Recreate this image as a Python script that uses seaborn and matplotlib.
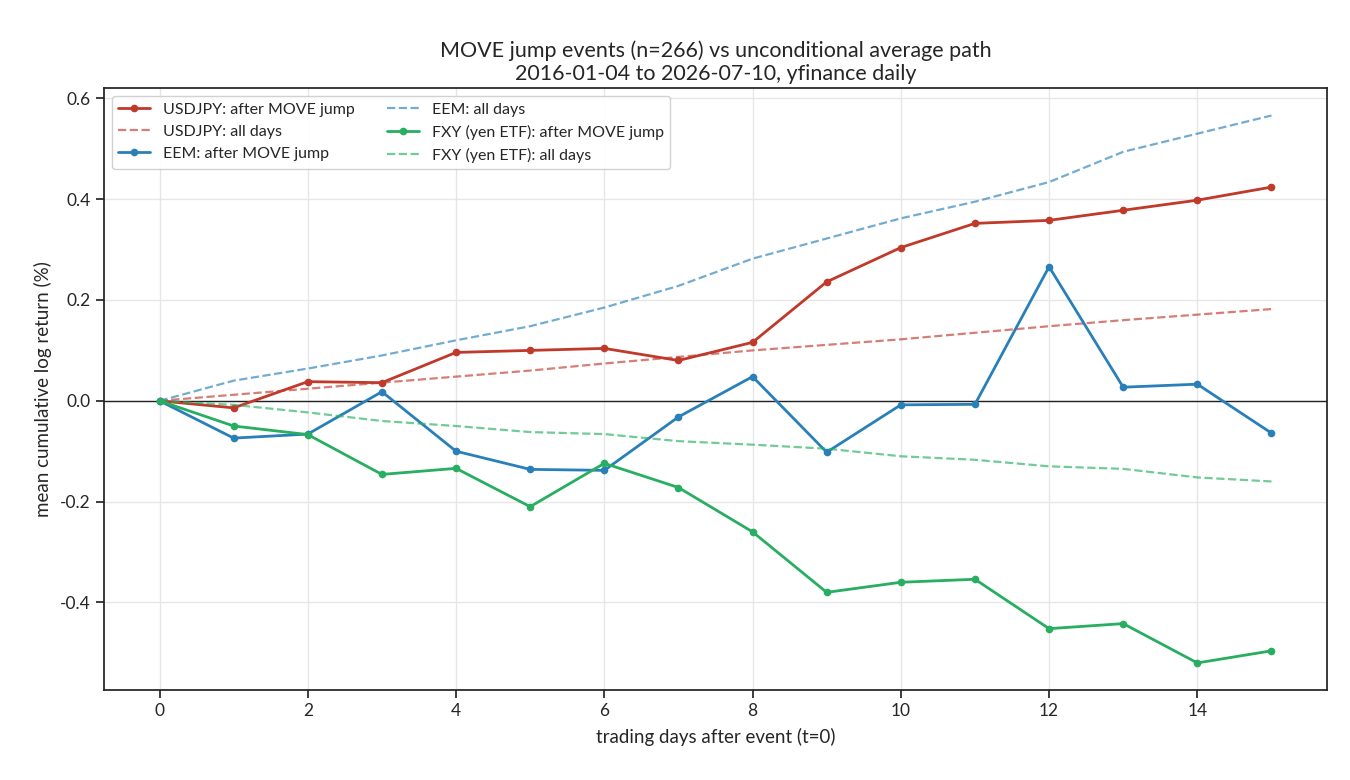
import matplotlib
matplotlib.use('agg')
import matplotlib.pyplot as plt
import seaborn as sns
import numpy as np
import pandas as pd

DAYS = list(range(16))

USDJPY_JUMP = [0.0, -0.014, 0.038, 0.036, 0.096, 0.100, 0.104, 0.080, 0.116,
               0.236, 0.304, 0.352, 0.358, 0.378, 0.398, 0.424]
USDJPY_ALL = [0.0, 0.012, 0.024, 0.036, 0.048, 0.060, 0.074, 0.087, 0.100,
              0.111, 0.122, 0.135, 0.148, 0.160, 0.171, 0.182]
EEM_JUMP = [0.0, -0.074, -0.066, 0.018, -0.100, -0.136, -0.138, -0.032, 0.048,
            -0.102, -0.008, -0.007, 0.266, 0.027, 0.033, -0.064]
EEM_ALL = [0.0, 0.040, 0.064, 0.090, 0.120, 0.148, 0.185, 0.228, 0.282,
           0.322, 0.362, 0.395, 0.434, 0.494, 0.530, 0.566]
FXY_JUMP = [0.0, -0.050, -0.067, -0.146, -0.134, -0.210, -0.124, -0.172, -0.260,
            -0.380, -0.360, -0.354, -0.452, -0.442, -0.520, -0.496]
FXY_ALL = [0.0, -0.008, -0.023, -0.040, -0.050, -0.062, -0.066, -0.080, -0.087,
           -0.095, -0.110, -0.117, -0.130, -0.135, -0.152, -0.160]

RED = '#c0392b'
BLUE = '#2980b9'
GREEN = '#27ae60'

sns.set_theme(style='ticks')
plt.rcParams['font.family'] = ['Lato', 'DejaVu Sans']
plt.rcParams['axes.edgecolor'] = '#222222'
plt.rcParams['axes.unicode_minus'] = False

fig, ax = plt.subplots(figsize=[13.5, 7.8], dpi=100)

series = [
    ('USDJPY: after MOVE jump', USDJPY_JUMP, RED, True),
    ('USDJPY: all days', USDJPY_ALL, RED, False),
    ('EEM: after MOVE jump', EEM_JUMP, BLUE, True),
    ('EEM: all days', EEM_ALL, BLUE, False),
    ('FXY (yen ETF): after MOVE jump', FXY_JUMP, GREEN, True),
    ('FXY (yen ETF): all days', FXY_ALL, GREEN, False),
]

for label, vals, color, solid in series:
    df = pd.DataFrame({'day': DAYS, 'ret': vals})
    if solid:
        sns.lineplot(data=df, x='day', y='ret', ax=ax, color=color, lw=2,
                     marker='o', markersize=5.5, markeredgewidth=0, label=label)
    else:
        sns.lineplot(data=df, x='day', y='ret', ax=ax, color=color, lw=1.6,
                     linestyle='--', alpha=0.65, label=label)

ax.axhline(0, color='#222222', lw=1, zorder=1)
ax.grid(True, color='#e6e6e6', lw=1)
ax.set_axisbelow(True)

ax.set_xticks(range(0, 16, 2))
ax.set_yticks([-0.4, -0.2, 0.0, 0.2, 0.4, 0.6])
ax.tick_params(labelsize=12.5)

ax.set_xlabel('trading days after event (t=0)', fontsize=13.5, labelpad=6)
ax.set_ylabel('mean cumulative log return (%)', fontsize=13.5, labelpad=6)
ax.set_title('MOVE jump events (n=266) vs unconditional average path\n'
             '2016-01-04 to 2026-07-10, yfinance daily', fontsize=15.5)

ax.legend(loc='upper left', ncol=2, fontsize=11.5, frameon=True,
          framealpha=0.9, edgecolor='#cccccc')

fig.subplots_adjust(left=0.077, right=0.983, top=0.887, bottom=0.115)
fig.savefig('out.png', dpi=100)
